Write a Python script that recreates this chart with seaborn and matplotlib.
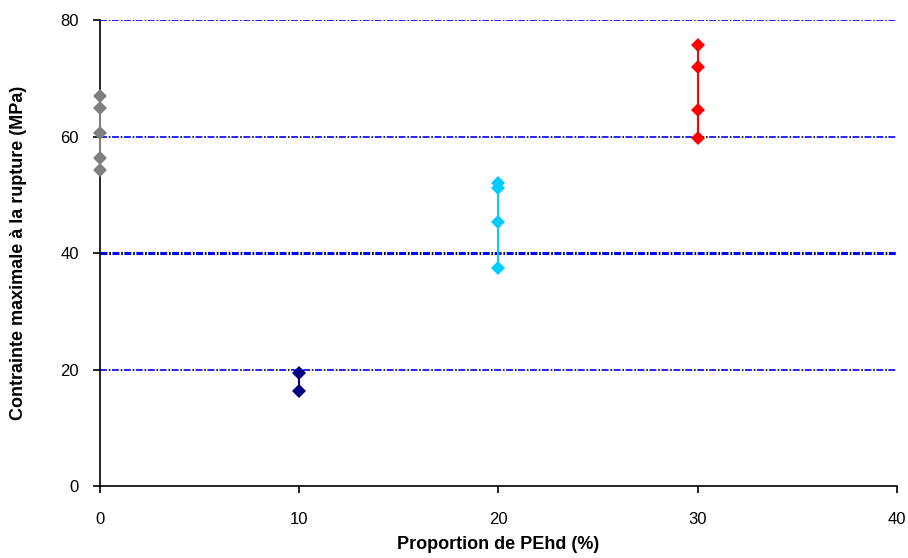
import matplotlib
matplotlib.use("Agg")
import matplotlib.pyplot as plt
import seaborn as sns
import pandas as pd

# valeurs
proportion = [0, 10, 20, 30]
contrainte_0 = [67.0, 64.9, 60.6, 56.3, 54.2]
contrainte_10 = [19.4, 16.3]
contrainte_20 = [52.0, 51.2, 45.3, 37.4]
contrainte_30 = [75.7, 71.9, 64.5, 59.7]
couleurs = ["#808080", "#000080", "#00CCFF", "#FF0000"]

series = [contrainte_0, contrainte_10, contrainte_20, contrainte_30]
rows = []
for p, vals in zip(proportion, series):
    for v in vals:
        rows.append({"x": p, "y": v, "serie": str(p)})
df = pd.DataFrame(rows)

sns.set_style("white")
plt.rcParams['font.family'] = ['Liberation Sans', 'DejaVu Sans']
plt.rcParams['lines.scale_dashes'] = False
plt.rcParams['text.color'] = 'black'
plt.rcParams['axes.labelcolor'] = 'black'
plt.rcParams['xtick.color'] = 'black'
plt.rcParams['ytick.color'] = 'black'

fig = plt.figure(figsize=(9.08, 5.58), dpi=100)
ax = fig.add_axes([0.110, 0.129, 0.878, 0.835])

# grille horizontale façon Excel (tirets bleus + points noirs)
for yv in [20, 40, 60, 80]:
    lw = 2.2 if yv == 40 else 1.2
    ax.axhline(yv, color="blue", lw=lw, linestyle=(0, (5, 3.6)), zorder=1)
    ax.axhline(yv, color="black", lw=lw, linestyle=(2.3, (1.2, 7.4)), zorder=1)

ax = sns.lineplot(data=df, x="x", y="y", hue="serie", palette=couleurs,
                  estimator=None, sort=False, marker="D", markersize=7,
                  markeredgewidth=0, linewidth=1.5, legend=False, ax=ax, zorder=3)
for ln in ax.lines[8:]:
    ln.set_clip_on(False)

ax.set_xlim(0, 40)
ax.set_ylim(0, 80)
ax.set_xticks([0, 10, 20, 30, 40])
ax.set_yticks([0, 20, 40, 60, 80])

for s in ["top", "right"]:
    ax.spines[s].set_visible(False)
for s in ["left", "bottom"]:
    ax.spines[s].set_color("black")
    ax.spines[s].set_linewidth(1.2)
    ax.spines[s].set_zorder(2)

ax.tick_params(axis="both", direction="out", length=5, width=1.2, color="black",
               labelsize=12, left=True, bottom=True)
ax.tick_params(axis="x", pad=14)
ax.tick_params(axis="y", pad=10)
ax.set_xlabel("Proportion de PEhd (%)", fontsize=13, fontweight="bold", labelpad=6)
ax.set_ylabel("Contrainte maximale à la rupture (MPa)", fontsize=13, fontweight="bold", labelpad=24)

fig.savefig("out.png", dpi=100)
